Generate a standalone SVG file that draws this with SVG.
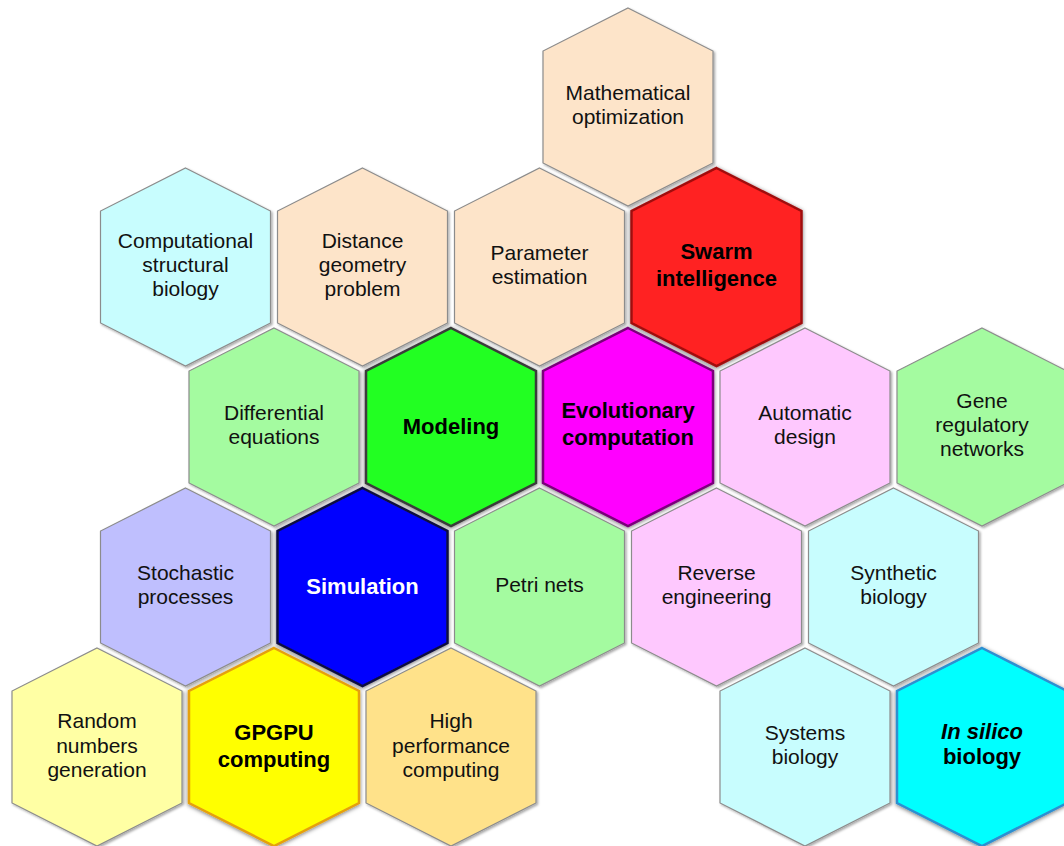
<svg xmlns="http://www.w3.org/2000/svg" xmlns:xlink="http://www.w3.org/1999/xlink" width="1064" height="846" viewBox="0 0 1064 846">
  <defs>
    <!-- pointy-top hexagon cell, centred on the origin -->
    <path id="hex" d="M0,-99 L85,-56 L85,56 L0,99 L-85,56 L-85,-56 Z"/>
    <filter id="soft" x="-10%" y="-10%" width="125%" height="125%">
      <feDropShadow dx="1.5" dy="1.5" stdDeviation="1.2" flood-color="#000" flood-opacity="0.35"/>
    </filter>
    <filter id="glow" x="-15%" y="-15%" width="130%" height="130%">
      <feDropShadow dx="0" dy="1" stdDeviation="2.2" flood-color="#000" flood-opacity="0.55"/>
    </filter>
  </defs>
  <style>
    .cell { stroke: #8c8c8c; stroke-width: 1.2; filter: url(#soft); }
    .core { stroke-width: 2.5; filter: url(#glow); }
    text { font-family: "Liberation Sans", Arial, sans-serif; font-size: 21px; fill: #111; text-anchor: middle; }
    .b { font-weight: bold; font-size: 22px; fill: #000; }
    .peach { fill: #FDE4C9; }
    .ice { fill: #C8FDFE; }
    .mint { fill: #A4FBA0; }
    .pink { fill: #FEC8FE; }
    .lav { fill: #BFBFFE; }
    .cream { fill: #FFFFA4; }
    .apricot { fill: #FFE28A; }
  </style>

  <rect width="1064" height="846" fill="#ffffff"/>

  <!-- row 1 -->
  <g id="mathematical-optimization" transform="translate(628,107)">
    <use xlink:href="#hex" class="cell peach"/>
    <text y="-7">Mathematical</text>
    <text y="17">optimization</text>
  </g>

  <!-- row 2 -->
  <g id="computational-structural-biology" transform="translate(185.5,267)">
    <use xlink:href="#hex" class="cell ice"/>
    <text y="-19">Computational</text>
    <text y="5">structural</text>
    <text y="29">biology</text>
  </g>
  <g id="distance-geometry-problem" transform="translate(362.5,267)">
    <use xlink:href="#hex" class="cell peach"/>
    <text y="-19">Distance</text>
    <text y="5">geometry</text>
    <text y="29">problem</text>
  </g>
  <g id="parameter-estimation" transform="translate(539.5,267)">
    <use xlink:href="#hex" class="cell peach"/>
    <text y="-7">Parameter</text>
    <text y="17">estimation</text>
  </g>
  <g id="swarm-intelligence" transform="translate(716.5,267)">
    <use xlink:href="#hex" class="core" fill="#FF2020" stroke="#A00E0E"/>
    <text class="b" y="-8">Swarm</text>
    <text class="b" y="19">intelligence</text>
  </g>

  <!-- row 3 -->
  <g id="differential-equations" transform="translate(274,427)">
    <use xlink:href="#hex" class="cell mint"/>
    <text y="-7">Differential</text>
    <text y="17">equations</text>
  </g>
  <g id="modeling" transform="translate(451,427)">
    <use xlink:href="#hex" class="core" fill="#22FF22" stroke="#3A3A3A"/>
    <text class="b" y="7">Modeling</text>
  </g>
  <g id="evolutionary-computation" transform="translate(628,427)">
    <use xlink:href="#hex" class="core" fill="#FF00FF" stroke="#7A007A"/>
    <text class="b" y="-9">Evolutionary</text>
    <text class="b" y="18">computation</text>
  </g>
  <g id="automatic-design" transform="translate(805,427)">
    <use xlink:href="#hex" class="cell pink"/>
    <text y="-7">Automatic</text>
    <text y="17">design</text>
  </g>
  <g id="gene-regulatory-networks" transform="translate(982,427)">
    <use xlink:href="#hex" class="cell mint"/>
    <text y="-19">Gene</text>
    <text y="5">regulatory</text>
    <text y="29">networks</text>
  </g>

  <!-- row 4 -->
  <g id="stochastic-processes" transform="translate(185.5,587)">
    <use xlink:href="#hex" class="cell lav"/>
    <text y="-7">Stochastic</text>
    <text y="17">processes</text>
  </g>
  <g id="simulation" transform="translate(362.5,587)">
    <use xlink:href="#hex" class="core" fill="#0000FF" stroke="#101040"/>
    <text class="b" y="7" style="fill:#ffffff">Simulation</text>
  </g>
  <g id="petri-nets" transform="translate(539.5,587)">
    <use xlink:href="#hex" class="cell mint"/>
    <text y="5">Petri nets</text>
  </g>
  <g id="reverse-engineering" transform="translate(716.5,587)">
    <use xlink:href="#hex" class="cell pink"/>
    <text y="-7">Reverse</text>
    <text y="17">engineering</text>
  </g>
  <g id="synthetic-biology" transform="translate(893.5,587)">
    <use xlink:href="#hex" class="cell ice"/>
    <text y="-7">Synthetic</text>
    <text y="17">biology</text>
  </g>

  <!-- row 5 -->
  <g id="random-numbers-generation" transform="translate(97,747)">
    <use xlink:href="#hex" class="cell cream"/>
    <text y="-19">Random</text>
    <text y="6">numbers</text>
    <text y="30">generation</text>
  </g>
  <g id="gpgpu-computing" transform="translate(274,747)">
    <use xlink:href="#hex" class="core" fill="#FFFF00" stroke="#E5A010"/>
    <text class="b" y="-7">GPGPU</text>
    <text class="b" y="20">computing</text>
  </g>
  <g id="high-performance-computing" transform="translate(451,747)">
    <use xlink:href="#hex" class="cell apricot"/>
    <text y="-19">High</text>
    <text y="6">performance</text>
    <text y="30">computing</text>
  </g>
  <g id="systems-biology" transform="translate(805,747)">
    <use xlink:href="#hex" class="cell ice"/>
    <text y="-7">Systems</text>
    <text y="17">biology</text>
  </g>
  <g id="in-silico-biology" transform="translate(982,747)">
    <use xlink:href="#hex" class="core" fill="#00FFFF" stroke="#2E8FD0"/>
    <text class="b" y="-8" font-style="italic">In silico</text>
    <text class="b" y="17">biology</text>
  </g>

  <!-- no connectors: the cells touch edge to edge -->
  <g id="connectors"/>
</svg>
